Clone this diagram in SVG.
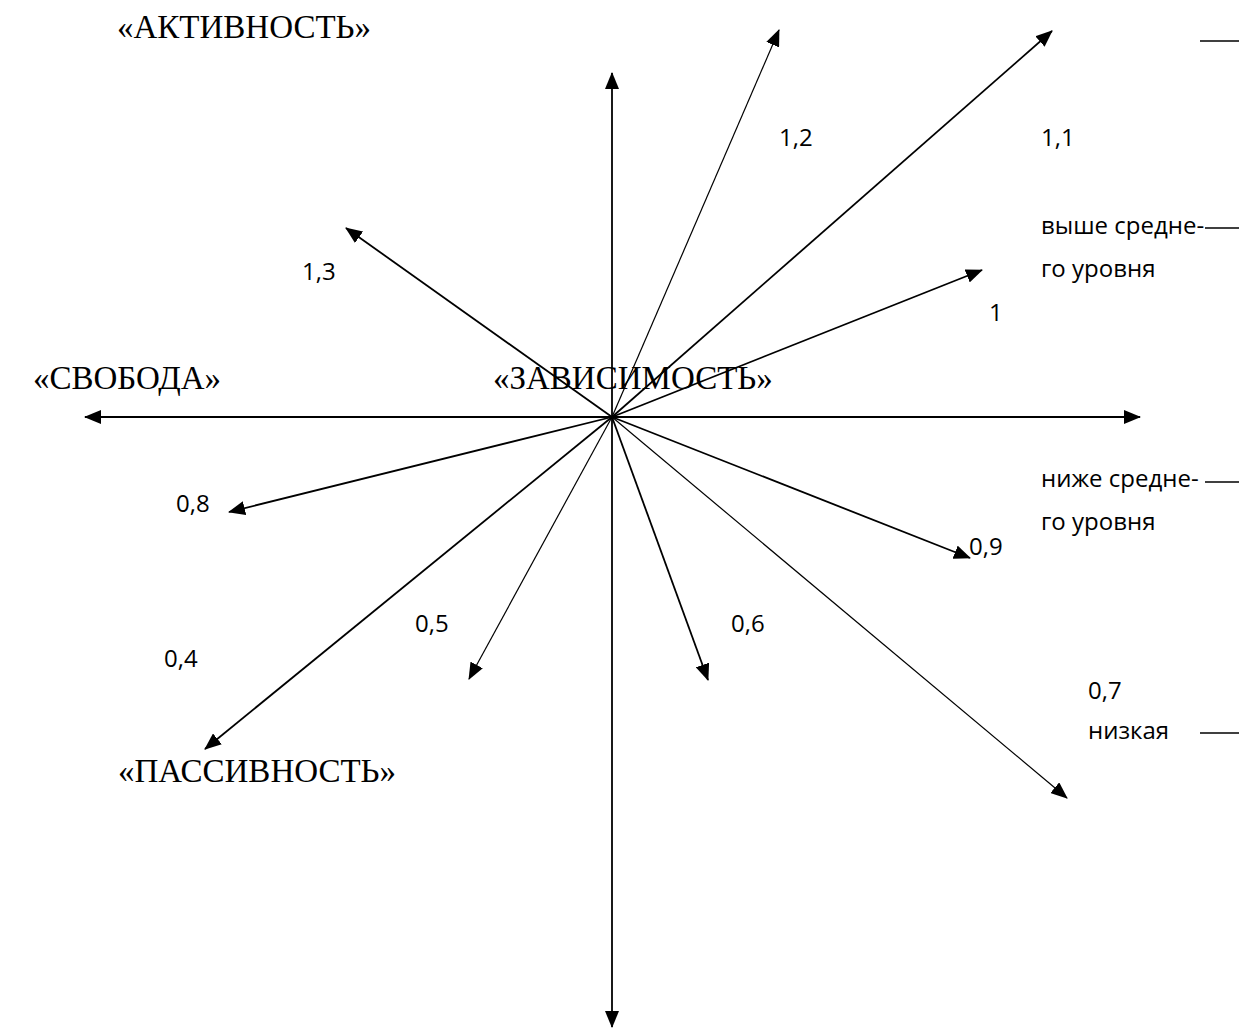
<svg xmlns="http://www.w3.org/2000/svg" width="1239" height="1030" viewBox="0 0 1239 1030">
<style>
.ser{font-family:"Liberation Serif","Times New Roman",serif;font-size:33px;fill:#000}
.san{font-family:"Open Sans","Noto Sans",sans-serif;font-size:24px;fill:#000}
.ax{stroke:#000;stroke-width:1.8;fill:none;marker-end:url(#ah)}
.thin{stroke-width:1.2}
.tick{stroke:#000;stroke-width:1.5}
</style>
<defs>
<marker id="ah" markerUnits="userSpaceOnUse" markerWidth="17" markerHeight="14" refX="16" refY="7" orient="auto" viewBox="0 0 17 14">
<path d="M0,0 L17,7 L0,14 z" fill="#000"/>
</marker>
</defs>
<rect width="1239" height="1030" fill="#fff"/>
<g id="connectors">
<line class="ax" x1="612" y1="417" x2="612" y2="73"/>
<line class="ax" x1="612" y1="417" x2="612" y2="1027"/>
<line class="ax" x1="612" y1="417" x2="85" y2="417"/>
<line class="ax" x1="612" y1="417" x2="1140" y2="417"/>
<line class="ax thin" x1="612" y1="417" x2="779" y2="30"/>
<line class="ax" x1="612" y1="417" x2="1052" y2="31"/>
<line class="ax" x1="612" y1="417" x2="346" y2="228"/>
<line class="ax" x1="612" y1="417" x2="982" y2="270"/>
<line class="ax" x1="612" y1="417" x2="229" y2="512"/>
<line class="ax" x1="612" y1="417" x2="970" y2="558"/>
<line class="ax" x1="612" y1="417" x2="205" y2="749"/>
<line class="ax thin" x1="612" y1="417" x2="469" y2="679"/>
<line class="ax" x1="612" y1="417" x2="708" y2="680"/>
<line class="ax thin" x1="612" y1="417" x2="1067" y2="798"/>
<line class="tick" x1="1200" y1="41" x2="1239" y2="41"/>
<line class="tick" x1="1205" y1="228" x2="1239" y2="228"/>
<line class="tick" x1="1205" y1="482" x2="1239" y2="482"/>
<line class="tick" x1="1200" y1="733" x2="1239" y2="733"/>
</g>
<g id="pole-labels">
<text class="ser" x="117" y="38">«АКТИВНОСТЬ»</text>
<text class="ser" x="33" y="389">«СВОБОДА»</text>
<text class="ser" x="493" y="389">«ЗАВИСИМОСТЬ»</text>
<text class="ser" x="118" y="782">«ПАССИВНОСТЬ»</text>
</g>
<g id="value-labels">
<text class="san" x="779" y="146">1,2</text>
<text class="san" x="1041" y="146">1,1</text>
<text class="san" x="302" y="280">1,3</text>
<text class="san" x="989" y="321">1</text>
<text class="san" x="176" y="512">0,8</text>
<text class="san" x="969" y="555">0,9</text>
<text class="san" x="415" y="632">0,5</text>
<text class="san" x="731" y="632">0,6</text>
<text class="san" x="164" y="667">0,4</text>
<text class="san" x="1088" y="699">0,7</text>
</g>
<g id="level-labels">
<text class="san" x="1041" y="234">выше средне-</text>
<text class="san" x="1041" y="277">го уровня</text>
<text class="san" x="1041" y="487">ниже средне-</text>
<text class="san" x="1041" y="530">го уровня</text>
<text class="san" x="1088" y="739">низкая</text>
</g>
</svg>
